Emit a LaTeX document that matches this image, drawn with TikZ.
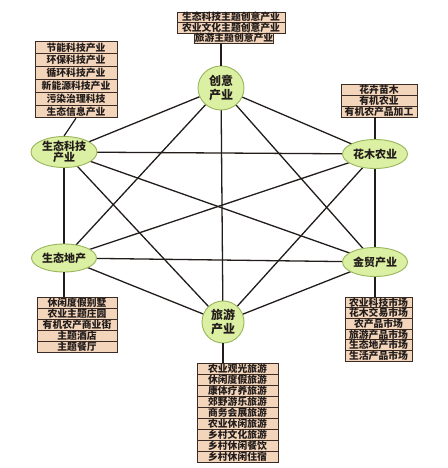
\documentclass[tikz,border=0pt]{standalone}
\usepackage{fontspec}
\newfontfamily\cjk{Noto Sans CJK SC}
\usetikzlibrary{shapes.geometric,backgrounds}
\definecolor{peach}{HTML}{F3D5BC}
\definecolor{rowline}{HTML}{3A2C24}
\definecolor{ellfill}{HTML}{DCF0A4}
\definecolor{elldraw}{HTML}{98B55A}
\definecolor{ink}{HTML}{221C1A}
\tikzset{
  row/.style={draw=rowline, line width=0.8pt, fill=peach, inner sep=0pt, text=ink,
    font=\cjk\bfseries\fontsize{9.8}{10}\selectfont, anchor=center},
  hub/.style={ellipse, draw=elldraw, line width=0.9pt, fill=ellfill, inner sep=0pt,
    text=ink, font=\cjk\bfseries\fontsize{11}{13}\selectfont, align=center},
  bighub/.style={hub, font=\cjk\bfseries\fontsize{12}{14}\selectfont},
  link/.style={draw=ink, line width=1.3pt},
  tie/.style={draw=ink, line width=1.2pt}
}
\begin{document}
\begin{tikzpicture}[x=1pt,y=-1pt]
\useasboundingbox (0,0) rectangle (447,468);
% hubs
\node[bighub, minimum width=46pt, minimum height=44pt] (cy) at (221,88) {创意\\产业};
\node[hub, minimum width=66pt, minimum height=31pt] (st) at (64,152) {生态科技\\[-2pt]产业};
\node[hub, minimum width=65pt, minimum height=29pt] (hm) at (375,154) {花木农业};
\node[hub, minimum width=65pt, minimum height=28pt] (dc) at (64,258) {生态地产};
\node[hub, minimum width=65pt, minimum height=29pt] (jm) at (375,262) {金贸产业};
\node[bighub, minimum width=42pt, minimum height=42pt] (ly) at (223,322) {旅游\\产业};
% edges (complete graph), behind the hubs
\begin{pgfonlayer}{background}
\fill[white] (0,0) rectangle (447,468);
\foreach \a/\b in {cy/st,cy/hm,cy/dc,cy/jm,cy/ly,st/hm,st/dc,st/jm,st/ly,hm/dc,hm/jm,hm/ly,dc/jm,dc/ly,jm/ly}
  \draw[link] (\a.center) -- (\b.center);
\end{pgfonlayer}
% top group
\node[row, minimum width=108pt, minimum height=10.5pt] (t1) at (231,17.25) {生态科技主题创意产业};
\node[row, minimum width=108pt, minimum height=10.5pt] (t2) at (231,27.75) {农业文化主题创意产业};
\node[row, minimum width=78pt, minimum height=10.5pt] (t3) at (234,38.25) {旅游主题创意产业};
% left top group
\node[row, minimum width=82pt, minimum height=12.8pt] (a1) at (76,47.4) {节能科技产业};
\node[row, minimum width=82pt, minimum height=12.8pt] (a2) at (76,60.2) {环保科技产业};
\node[row, minimum width=82pt, minimum height=12.8pt] (a3) at (76,73.0) {循环科技产业};
\node[row, minimum width=82pt, minimum height=12.8pt] (a4) at (76,85.8) {新能源科技产业};
\node[row, minimum width=82pt, minimum height=12.8pt] (a5) at (76,98.6) {污染治理科技};
\node[row, minimum width=82pt, minimum height=12.8pt] (a6) at (76,111.4) {生态信息产业};
% right top group
\node[row, minimum width=76pt, minimum height=11pt] (b1) at (379,89.5) {花卉苗木};
\node[row, minimum width=76pt, minimum height=11pt] (b2) at (379,100.5) {有机农业};
\node[row, minimum width=76pt, minimum height=11pt] (b3) at (379,111.5) {有机农产品加工};
% left bottom group
\node[row, minimum width=80pt, minimum height=11pt] (c1) at (77,302.5) {休闲度假别墅};
\node[row, minimum width=80pt, minimum height=11pt] (c2) at (77,313.5) {农业主题庄园};
\node[row, minimum width=80pt, minimum height=11pt] (c3) at (77,324.5) {有机农产商业街};
\node[row, minimum width=80pt, minimum height=11pt] (c4) at (77,335.5) {主题酒店};
\node[row, minimum width=80pt, minimum height=11pt] (c5) at (77,346.5) {主题餐厅};
% right bottom group
\node[row, minimum width=67pt, minimum height=10.7pt] (d1) at (378.5,302.3) {农业科技市场};
\node[row, minimum width=67pt, minimum height=10.7pt] (d2) at (378.5,313.0) {花木交易市场};
\node[row, minimum width=67pt, minimum height=10.7pt] (d3) at (378.5,323.7) {农产品市场};
\node[row, minimum width=67pt, minimum height=10.7pt] (d4) at (378.5,334.4) {旅游产品市场};
\node[row, minimum width=67pt, minimum height=10.7pt] (d5) at (378.5,345.1) {生态地产市场};
\node[row, minimum width=67pt, minimum height=10.7pt] (d6) at (378.5,355.8) {生活产品市场};
% bottom group
\node[row, minimum width=81pt, minimum height=11pt] (e1) at (237.5,368.5) {农业观光旅游};
\node[row, minimum width=81pt, minimum height=11pt] (e2) at (237.5,379.5) {休闲度假旅游};
\node[row, minimum width=81pt, minimum height=11pt] (e3) at (237.5,390.5) {康体疗养旅游};
\node[row, minimum width=81pt, minimum height=11pt] (e4) at (237.5,401.5) {郊野游乐旅游};
\node[row, minimum width=81pt, minimum height=11pt] (e5) at (237.5,412.5) {商务会展旅游};
\node[row, minimum width=81pt, minimum height=11pt] (e6) at (237.5,423.5) {农业休闲旅游};
\node[row, minimum width=81pt, minimum height=11pt] (e7) at (237.5,434.5) {乡村文化旅游};
\node[row, minimum width=81pt, minimum height=11pt] (e8) at (237.5,445.5) {乡村休闲餐饮};
\node[row, minimum width=81pt, minimum height=11pt] (e9) at (237.5,456.5) {乡村休闲住宿};
% ties from groups to hubs
\draw[tie] (cy.north) -- (t3.south -| cy.north);
\draw[tie] (st.north) -- (a6.south);
\draw[tie] (hm.north) -- (b3.south -| hm.north);
\draw[tie] (dc.south) -- (c1.north -| dc.south);
\draw[tie] (jm.south) -- (d1.north -| jm.south);
\draw[tie] (ly.south) -- (e1.north -| ly.south);
\end{tikzpicture}
\end{document}
